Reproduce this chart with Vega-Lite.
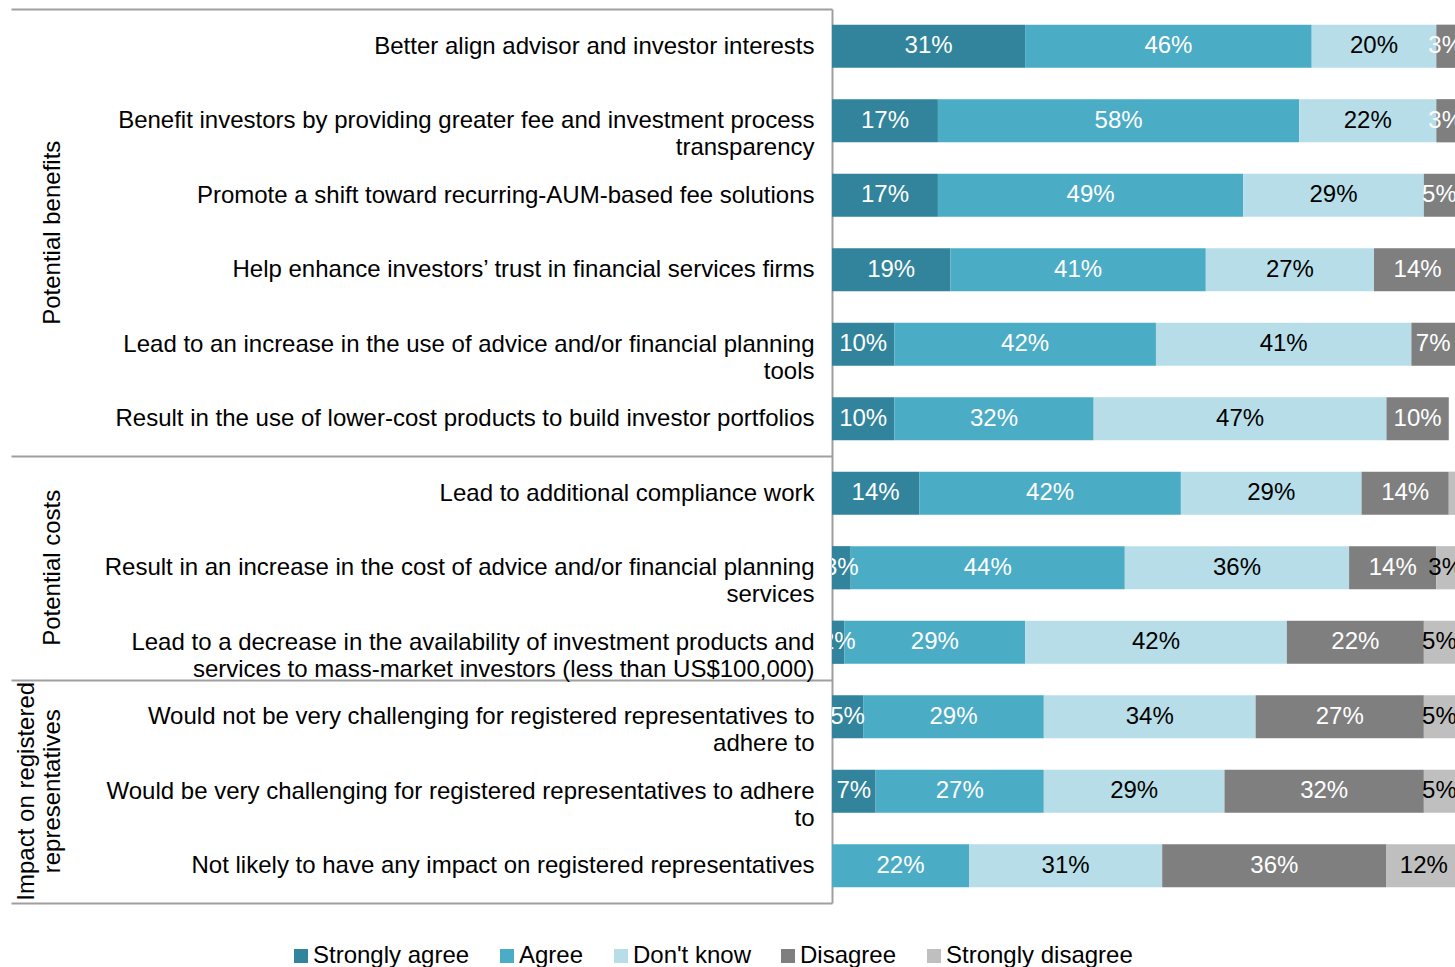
{
  "$schema": "https://vega.github.io/schema/vega-lite/v6.json",
  "padding": {"left": 0, "top": -3, "right": 0, "bottom": 0},
  "background": "white",
  "config": {"view": {"stroke": null}, "font": "Liberation Sans"},
  "datasets": {
    "responses": [
      {"item": "Better align advisor and investor interests", "response": "Strongly agree", "rank": 1, "share": 0.31},
      {"item": "Better align advisor and investor interests", "response": "Agree", "rank": 2, "share": 0.46},
      {"item": "Better align advisor and investor interests", "response": "Don't know", "rank": 3, "share": 0.20},
      {"item": "Better align advisor and investor interests", "response": "Disagree", "rank": 4, "share": 0.03},
      {"item": "Benefit investors by providing greater fee and investment process\ntransparency", "response": "Strongly agree", "rank": 1, "share": 0.17},
      {"item": "Benefit investors by providing greater fee and investment process\ntransparency", "response": "Agree", "rank": 2, "share": 0.58},
      {"item": "Benefit investors by providing greater fee and investment process\ntransparency", "response": "Don't know", "rank": 3, "share": 0.22},
      {"item": "Benefit investors by providing greater fee and investment process\ntransparency", "response": "Disagree", "rank": 4, "share": 0.03},
      {"item": "Promote a shift toward recurring-AUM-based fee solutions", "response": "Strongly agree", "rank": 1, "share": 0.17},
      {"item": "Promote a shift toward recurring-AUM-based fee solutions", "response": "Agree", "rank": 2, "share": 0.49},
      {"item": "Promote a shift toward recurring-AUM-based fee solutions", "response": "Don't know", "rank": 3, "share": 0.29},
      {"item": "Promote a shift toward recurring-AUM-based fee solutions", "response": "Disagree", "rank": 4, "share": 0.05},
      {"item": "Help enhance investors’ trust in financial services firms", "response": "Strongly agree", "rank": 1, "share": 0.19},
      {"item": "Help enhance investors’ trust in financial services firms", "response": "Agree", "rank": 2, "share": 0.41},
      {"item": "Help enhance investors’ trust in financial services firms", "response": "Don't know", "rank": 3, "share": 0.27},
      {"item": "Help enhance investors’ trust in financial services firms", "response": "Disagree", "rank": 4, "share": 0.14},
      {"item": "Lead to an increase in the use of advice and/or financial planning\ntools", "response": "Strongly agree", "rank": 1, "share": 0.10},
      {"item": "Lead to an increase in the use of advice and/or financial planning\ntools", "response": "Agree", "rank": 2, "share": 0.42},
      {"item": "Lead to an increase in the use of advice and/or financial planning\ntools", "response": "Don't know", "rank": 3, "share": 0.41},
      {"item": "Lead to an increase in the use of advice and/or financial planning\ntools", "response": "Disagree", "rank": 4, "share": 0.07},
      {"item": "Result in the use of lower-cost products to build investor portfolios", "response": "Strongly agree", "rank": 1, "share": 0.10},
      {"item": "Result in the use of lower-cost products to build investor portfolios", "response": "Agree", "rank": 2, "share": 0.32},
      {"item": "Result in the use of lower-cost products to build investor portfolios", "response": "Don't know", "rank": 3, "share": 0.47},
      {"item": "Result in the use of lower-cost products to build investor portfolios", "response": "Disagree", "rank": 4, "share": 0.10},
      {"item": "Lead to additional compliance work", "response": "Strongly agree", "rank": 1, "share": 0.14},
      {"item": "Lead to additional compliance work", "response": "Agree", "rank": 2, "share": 0.42},
      {"item": "Lead to additional compliance work", "response": "Don't know", "rank": 3, "share": 0.29},
      {"item": "Lead to additional compliance work", "response": "Disagree", "rank": 4, "share": 0.14},
      {"item": "Lead to additional compliance work", "response": "Strongly disagree", "rank": 5, "share": 0.01},
      {"item": "Result in an increase in the cost of advice and/or financial planning\nservices", "response": "Strongly agree", "rank": 1, "share": 0.03},
      {"item": "Result in an increase in the cost of advice and/or financial planning\nservices", "response": "Agree", "rank": 2, "share": 0.44},
      {"item": "Result in an increase in the cost of advice and/or financial planning\nservices", "response": "Don't know", "rank": 3, "share": 0.36},
      {"item": "Result in an increase in the cost of advice and/or financial planning\nservices", "response": "Disagree", "rank": 4, "share": 0.14},
      {"item": "Result in an increase in the cost of advice and/or financial planning\nservices", "response": "Strongly disagree", "rank": 5, "share": 0.03},
      {"item": "Lead to a decrease in the availability of investment products and\nservices to mass-market investors (less than US$100,000)", "response": "Strongly agree", "rank": 1, "share": 0.02},
      {"item": "Lead to a decrease in the availability of investment products and\nservices to mass-market investors (less than US$100,000)", "response": "Agree", "rank": 2, "share": 0.29},
      {"item": "Lead to a decrease in the availability of investment products and\nservices to mass-market investors (less than US$100,000)", "response": "Don't know", "rank": 3, "share": 0.42},
      {"item": "Lead to a decrease in the availability of investment products and\nservices to mass-market investors (less than US$100,000)", "response": "Disagree", "rank": 4, "share": 0.22},
      {"item": "Lead to a decrease in the availability of investment products and\nservices to mass-market investors (less than US$100,000)", "response": "Strongly disagree", "rank": 5, "share": 0.05},
      {"item": "Would not be very challenging for registered representatives to\nadhere to", "response": "Strongly agree", "rank": 1, "share": 0.05},
      {"item": "Would not be very challenging for registered representatives to\nadhere to", "response": "Agree", "rank": 2, "share": 0.29},
      {"item": "Would not be very challenging for registered representatives to\nadhere to", "response": "Don't know", "rank": 3, "share": 0.34},
      {"item": "Would not be very challenging for registered representatives to\nadhere to", "response": "Disagree", "rank": 4, "share": 0.27},
      {"item": "Would not be very challenging for registered representatives to\nadhere to", "response": "Strongly disagree", "rank": 5, "share": 0.05},
      {"item": "Would be very challenging for registered representatives to adhere\nto", "response": "Strongly agree", "rank": 1, "share": 0.07},
      {"item": "Would be very challenging for registered representatives to adhere\nto", "response": "Agree", "rank": 2, "share": 0.27},
      {"item": "Would be very challenging for registered representatives to adhere\nto", "response": "Don't know", "rank": 3, "share": 0.29},
      {"item": "Would be very challenging for registered representatives to adhere\nto", "response": "Disagree", "rank": 4, "share": 0.32},
      {"item": "Would be very challenging for registered representatives to adhere\nto", "response": "Strongly disagree", "rank": 5, "share": 0.05},
      {"item": "Not likely to have any impact on registered representatives", "response": "Agree", "rank": 2, "share": 0.22},
      {"item": "Not likely to have any impact on registered representatives", "response": "Don't know", "rank": 3, "share": 0.31},
      {"item": "Not likely to have any impact on registered representatives", "response": "Disagree", "rank": 4, "share": 0.36},
      {"item": "Not likely to have any impact on registered representatives", "response": "Strongly disagree", "rank": 5, "share": 0.12}
    ],
    "groups": [
      {"group": "Potential benefits", "anchor": "Help enhance investors’ trust in financial services firms"},
      {"group": "Potential costs", "anchor": "Result in an increase in the cost of advice and/or financial planning\nservices"},
      {"group": "Impact on registered\nrepresentatives", "anchor": "Would be very challenging for registered representatives to adhere\nto"}
    ]
  },
  "spacing": 726,
  "bounds": "flush",
  "resolve": {"scale": {"y": "independent"}, "legend": {"color": "shared"}},
  "hconcat": [
    {
      "width": 106,
      "height": 894,
      "data": {"name": "groups"},
      "encoding": {
        "y": {"field": "anchor", "type": "nominal", "axis": null,
          "scale": {"paddingInner": 0, "paddingOuter": 0, "domain": [
            "Better align advisor and investor interests",
            "Benefit investors by providing greater fee and investment process\ntransparency",
            "Promote a shift toward recurring-AUM-based fee solutions",
            "Help enhance investors’ trust in financial services firms",
            "Lead to an increase in the use of advice and/or financial planning\ntools",
            "Result in the use of lower-cost products to build investor portfolios",
            "Lead to additional compliance work",
            "Result in an increase in the cost of advice and/or financial planning\nservices",
            "Lead to a decrease in the availability of investment products and\nservices to mass-market investors (less than US$100,000)",
            "Would not be very challenging for registered representatives to\nadhere to",
            "Would be very challenging for registered representatives to adhere\nto",
            "Not likely to have any impact on registered representatives"]}},
        "text": {"field": "group"}
      },
      "layer": [
        {
          "transform": [{"filter": "datum.group === 'Potential benefits'"}],
          "mark": {"type": "text", "angle": 270, "font": "Liberation Sans", "fontSize": 24, "align": "center", "baseline": "middle", "color": "#000000", "dx": 37}
        },
        {
          "transform": [{"filter": "datum.group === 'Potential costs'"}],
          "mark": {"type": "text", "angle": 270, "font": "Liberation Sans", "fontSize": 24, "align": "center", "baseline": "middle", "color": "#000000"}
        },
        {
          "transform": [{"filter": "indexof(datum.group, 'Impact') === 0"}],
          "mark": {"type": "text", "angle": 270, "font": "Liberation Sans", "fontSize": 24, "align": "center", "baseline": "middle", "color": "#000000", "lineBreak": "\n", "lineHeight": 26, "dy": -26}
        }
      ]
    },
    {
      "width": 623,
      "height": 894,
      "data": {"name": "responses"},
      "encoding": {
        "y": {
          "field": "item",
          "type": "nominal",
          "scale": {"paddingInner": 0, "paddingOuter": 0, "domain": [
            "Better align advisor and investor interests",
            "Benefit investors by providing greater fee and investment process\ntransparency",
            "Promote a shift toward recurring-AUM-based fee solutions",
            "Help enhance investors’ trust in financial services firms",
            "Lead to an increase in the use of advice and/or financial planning\ntools",
            "Result in the use of lower-cost products to build investor portfolios",
            "Lead to additional compliance work",
            "Result in an increase in the cost of advice and/or financial planning\nservices",
            "Lead to a decrease in the availability of investment products and\nservices to mass-market investors (less than US$100,000)",
            "Would not be very challenging for registered representatives to\nadhere to",
            "Would be very challenging for registered representatives to adhere\nto",
            "Not likely to have any impact on registered representatives"]},
          "axis": {
            "title": null,
            "labelExpr": "split(datum.label, '\\n')",
            "labelFont": "Liberation Sans",
            "labelFontSize": 24,
            "labelColor": "#000000",
            "labelLimit": 1000,
            "labelLineHeight": 27,
            "labelAlign": "right",
            "labelBaseline": "middle",
            "labelPadding": -803,
            "labelOverlap": false,
            "tickBand": "extent",
            "tickSize": 821,
            "tickWidth": 2,
            "tickColor": "#9F9F9F",
            "tickOpacity": {"condition": {"test": "!isString(datum.value) || datum.index === 1 || datum.index < 0 || isObject(datum.extra) || datum.value === 'Result in the use of lower-cost products to build investor portfolios' || indexof(datum.value, 'Lead to a decrease') === 0 || indexof(datum.value, 'Not likely') === 0", "value": 1}, "value": 0},
            "domainColor": "#9F9F9F",
            "domainWidth": 2,
            "grid": false
          }
        }
      },
      "layer": [
        {
          "mark": {"type": "bar", "height": {"band": 0.58}},
          "encoding": {
            "x": {"field": "share", "type": "quantitative", "stack": "zero", "scale": {"domain": [0, 1], "nice": false}, "axis": null},
            "color": {
              "field": "response",
              "type": "nominal",
              "scale": {
                "domain": ["Strongly agree", "Agree", "Don't know", "Disagree", "Strongly disagree"],
                "range": ["#31849B", "#4BACC6", "#B7DEE8", "#7F7F7F", "#BFBFBF"]
              },
              "legend": {
                "orient": "none",
                "legendX": 289,
                "legendY": 935,
                "direction": "horizontal",
                "title": null,
                "symbolType": "square",
                "symbolSize": 196,
                "symbolStrokeWidth": 0,
                "labelFont": "Liberation Sans",
                "labelFontSize": 24,
                "labelColor": "#000000",
                "labelOffset": 0,
                "labelLimit": 400,
                "columnPadding": 25
              }
            },
            "order": {"field": "rank", "type": "quantitative"}
          }
        },
        {
          "transform": [{"filter": "datum.share >= 0.015"}],
          "mark": {"type": "text", "font": "Liberation Sans", "fontSize": 24, "align": "center", "baseline": "middle", "clip": true},
          "encoding": {
            "x": {"field": "share", "type": "quantitative", "stack": "zero", "bandPosition": 0.5},
            "detail": {"field": "response"},
            "order": {"field": "rank", "type": "quantitative"},
            "text": {"field": "share", "format": ".0%"},
            "color": {"condition": {"test": "datum.response === \"Don't know\" || datum.response === 'Strongly disagree'", "value": "#000000"}, "value": "#FFFFFF"}
          }
        }
      ]
    }
  ]
}
